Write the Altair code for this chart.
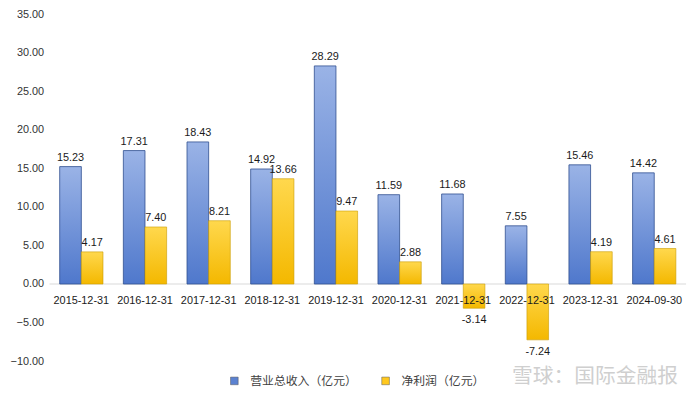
import altair as alt
import pandas as pd

dates = ["2015-12-31", "2016-12-31", "2017-12-31", "2018-12-31", "2019-12-31",
         "2020-12-31", "2021-12-31", "2022-12-31", "2023-12-31", "2024-09-30"]
revenue = [15.23, 17.31, 18.43, 14.92, 28.29, 11.59, 11.68, 7.55, 15.46, 14.42]
profit = [4.17, 7.40, 8.21, 13.66, 9.47, 2.88, -3.14, -7.24, 4.19, 4.61]
series = ["营业总收入（亿元）", "净利润（亿元）"]
y_ticks = [-10, -5, 0, 5, 10, 15, 20, 25, 30, 35]

rows = []
for d, r, p in zip(dates, revenue, profit):
    rows.append({"date": d, "series": series[0], "value": r})
    rows.append({"date": d, "series": series[1], "value": p})
df = pd.DataFrame(rows)
df["label"] = df["value"].map(lambda v: f"{v:.2f}")

FONT = "Liberation Sans"
CJK = "Noto Sans CJK SC"

x = alt.X("date:N", sort=dates, axis=None,
          scale=alt.Scale(paddingInner=0.32, paddingOuter=0.16))
xo = alt.XOffset("series:N", sort=series, scale=alt.Scale(domain=series))
Y_AXIS = alt.Axis(values=y_ticks, format=".2f", domain=False, ticks=False,
                  grid=False, title=None, labelFont=FONT, labelFontSize=11,
                  labelColor="#333333", labelPadding=6, labelOverlap=False)
Y_SCALE = alt.Scale(domain=[-10, 35], nice=False)


def yenc(field):
    return alt.Y(field, scale=Y_SCALE, axis=Y_AXIS, title=None)


base = alt.Chart(df)

blue_grad = {"gradient": "linear", "x1": 0, "y1": 0, "x2": 0, "y2": 1,
             "stops": [{"offset": 0, "color": "#9AB3E6"},
                       {"offset": 1, "color": "#4F78CC"}]}
yellow_grad = {"gradient": "linear", "x1": 0, "y1": 0, "x2": 0, "y2": 1,
               "stops": [{"offset": 0, "color": "#FFD84D"},
                         {"offset": 1, "color": "#F4B800"}]}

zero = alt.Chart(pd.DataFrame({"v": [0]})).mark_rule(color="#D9D9D9", strokeWidth=1.2).encode(
    y=yenc("v:Q"))

bars_rev = base.transform_filter(alt.datum.series == series[0]).mark_bar(
    fill=blue_grad, stroke="#2F4F8F", strokeWidth=0.8).encode(x=x, xOffset=xo, y=yenc("value:Q"))
bars_pro = base.transform_filter(alt.datum.series == series[1]).mark_bar(
    fill=yellow_grad, stroke="#C99A00", strokeWidth=0.6).encode(x=x, xOffset=xo, y=yenc("value:Q"))

labels_pos = base.transform_filter(alt.datum.value >= 0).mark_text(
    baseline="bottom", dy=-4, font=FONT, fontSize=11, color="#1a1a1a").encode(
    x=x, xOffset=xo, y=yenc("value:Q"), text="label:N")
labels_neg = base.transform_filter(alt.datum.value < 0).mark_text(
    baseline="top", dy=6, font=FONT, fontSize=11, color="#1a1a1a").encode(
    x=x, xOffset=xo, y=yenc("value:Q"), text="label:N")

cat_df = pd.DataFrame({"date": dates, "z": [0] * len(dates)})
cat_labels = alt.Chart(cat_df).mark_text(
    baseline="middle", dy=17, font=FONT, fontSize=11, color="#1a1a1a").encode(
    x=x, y=yenc("z:Q"), text="date:N")

legend_layer = base.mark_square(size=60, opacity=0).encode(
    x=x, xOffset=xo, y=yenc("value:Q"),
    color=alt.Color("series:N", sort=series,
                    scale=alt.Scale(domain=series, range=["#5B82D1", "#FFC81E"]),
                    legend=alt.Legend(title=None, orient="none", direction="horizontal",
                                      legendX=181, legendY=365, symbolType="square",
                                      symbolSize=60, symbolOpacity=1,
                                      symbolStrokeColor="#555555", symbolStrokeWidth=0.5,
                                      labelFont=CJK, labelFontSize=12,
                                      labelColor="#404040", columnPadding=22,
                                      labelOffset=10)))

wm = alt.Chart(pd.DataFrame({"t": ["雪球：国际金融报"]})).mark_text(
    font=CJK, fontSize=21, color="#CFCFCF", align="left", baseline="middle").encode(
    x=alt.value(468), y=alt.value(367), text="t:N")

chart = alt.layer(zero, bars_rev, bars_pro, labels_pos, labels_neg, cat_labels,
                  legend_layer, wm).properties(
    width=644, height=351, padding={"left": 42, "top": 4, "right": 6, "bottom": 31},
    autosize=alt.AutoSizeParams(type="none"),
    background="white"
).configure_view(stroke=None)

chart.save("out.html", embed_options={"renderer": "svg", "actions": False})
